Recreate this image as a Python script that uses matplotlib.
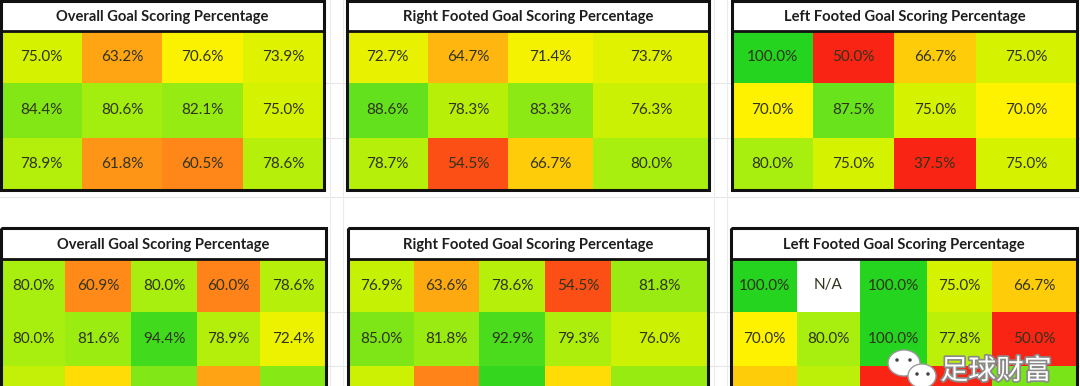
import numpy as np
import matplotlib
matplotlib.use("Agg")
import matplotlib.pyplot as plt
from matplotlib.colors import LinearSegmentedColormap, Normalize
from matplotlib.patches import Rectangle, Ellipse
import matplotlib.patheffects as pe

plt.rcParams['font.family'] = ['Lato', 'Noto Sans CJK SC', 'DejaVu Sans']

# ---------------- data ----------------
title_overall = "Overall Goal Scoring Percentage"
title_right = "Right Footed Goal Scoring Percentage"
title_left = "Left Footed Goal Scoring Percentage"
watermark = "足球财富"

overall_top = [[75.0, 63.2, 70.6, 73.9],
               [84.4, 80.6, 82.1, 75.0],
               [78.9, 61.8, 60.5, 78.6]]
right_top = [[72.7, 64.7, 71.4, 73.7],
             [88.6, 78.3, 83.3, 76.3],
             [78.7, 54.5, 66.7, 80.0]]
left_top = [[100.0, 50.0, 66.7, 75.0],
            [70.0, 87.5, 75.0, 70.0],
            [80.0, 75.0, 37.5, 75.0]]
overall_bottom = [[80.0, 60.9, 80.0, 60.0, 78.6],
                  [80.0, 81.6, 94.4, 78.9, 72.4],
                  [77.0, 68.0, 84.6, 63.0, 84.0]]
right_bottom = [[76.9, 63.6, 78.6, 54.5, 81.8],
                [85.0, 81.8, 92.9, 79.3, 76.0],
                [76.0, 60.0, 97.0, 68.0, 82.0]]
left_bottom = [[100.0, np.nan, 100.0, 75.0, 66.7],
               [70.0, 80.0, 100.0, 77.8, 50.0],
               [66.7, 77.8, 50.0, 50.0, 85.7]]

# colour scale (value -> colour)
scale_values = [50, 61, 70, 75, 80, 88, 100]
scale_colors = ["#fa2414", "#ff8c18", "#fff200", "#d6f200", "#a8ee0e", "#66e21c", "#24d41e"]

# ---------------- layout (pixels) ----------------
W, H = 1080, 386
panels = [
    dict(title=title_overall, data=overall_top, top=1, tb=31, rows=[31, 83, 138, 190],
         cols=[1, 82, 162, 243, 324]),
    dict(title=title_right, data=right_top, top=1, tb=31, rows=[31, 83, 138, 190],
         cols=[347, 428, 508, 593, 709]),
    dict(title=title_left, data=left_top, top=1, tb=31, rows=[31, 83, 138, 190],
         cols=[732, 813, 894, 976, 1077]),
    dict(title=title_overall, data=overall_bottom, top=228, tb=259, rows=[259, 312, 366, 420],
         cols=[1, 65, 131, 197, 260, 326]),
    dict(title=title_right, data=right_bottom, top=228, tb=259, rows=[259, 312, 366, 420],
         cols=[348, 414, 479, 545, 611, 708]),
    dict(title=title_left, data=left_bottom, top=228, tb=259, rows=[259, 312, 366, 420],
         cols=[731, 797, 860, 927, 992, 1077]),
]

vmin, vmax = scale_values[0], scale_values[-1]
cmap = LinearSegmentedColormap.from_list(
    "ryg", [((v - vmin) / (vmax - vmin), c) for v, c in zip(scale_values, scale_colors)])
cmap.set_under(scale_colors[0])
cmap.set_bad("white")
norm = Normalize(vmin=vmin, vmax=vmax)

fig = plt.figure(figsize=(W / 100, H / 100), dpi=100)
ax = fig.add_axes([0, 0, 1, 1])
ax.set_xlim(0, W)
ax.set_ylim(H, 0)
ax.axis("off")

# faint spreadsheet gridlines in the background
for y in [83, 138, 197, 312, 366]:
    ax.plot([0, W], [y, y], color="#e6e6e6", lw=0.8, zorder=0)
for x in [330, 343, 714, 727]:
    ax.plot([x, x], [0, H], color="#ececec", lw=0.8, zorder=0)

for p in panels:
    data = np.ma.masked_invalid(np.array(p["data"], dtype=float))
    cols, rows = p["cols"], p["rows"]
    ax.pcolormesh(cols, rows, data, cmap=cmap, norm=norm, zorder=2)
    # title band
    ax.add_patch(Rectangle((cols[0], p["top"]), cols[-1] - cols[0], p["tb"] - p["top"],
                           facecolor="white", edgecolor="none", zorder=2))
    ax.text((cols[0] + cols[-1]) / 2, (p["top"] + p["tb"]) / 2 + 1, p["title"],
            ha="center", va="center", fontsize=10.6, fontweight="bold", color="#1e1e1e", zorder=4)
    # borders
    ax.add_patch(Rectangle((cols[0], p["top"]), cols[-1] - cols[0], rows[-1] - p["top"],
                           facecolor="none", edgecolor="#111111", lw=2.2, zorder=5))
    ax.plot([cols[0], cols[-1]], [p["tb"], p["tb"]], color="#111111", lw=2.0, zorder=5)
    # cell labels
    for i in range(len(rows) - 1):
        for j in range(len(cols) - 1):
            v = p["data"][i][j]
            label = "N/A" if np.isnan(v) else f"{v:.1f}%"
            ax.text((cols[j] + cols[j + 1]) / 2, (rows[i] + rows[i + 1]) / 2, label,
                    ha="center", va="center", fontsize=11, color="#2f331a", zorder=4)

# watermark (WeChat-like bubbles + text)
ax.add_patch(Ellipse((904, 363), 32, 26, facecolor="white", edgecolor="#9a9a9a", lw=1, zorder=6))
ax.add_patch(Ellipse((922, 376), 28, 24, facecolor="white", edgecolor="#9a9a9a", lw=1, zorder=6))
for (ex, ey) in [(897, 360), (910, 360), (917, 374), (928, 374)]:
    ax.add_patch(Ellipse((ex, ey), 3.5, 3.5, facecolor="#444444", edgecolor="none", zorder=7))
ax.text(996, 371, watermark, ha="center", va="center", fontsize=20, color="white",
        family=['Noto Sans CJK SC'], zorder=7,
        path_effects=[pe.withStroke(linewidth=2.5, foreground="#8a8a8a")])

fig.savefig("out.png", dpi=100, facecolor="white")
